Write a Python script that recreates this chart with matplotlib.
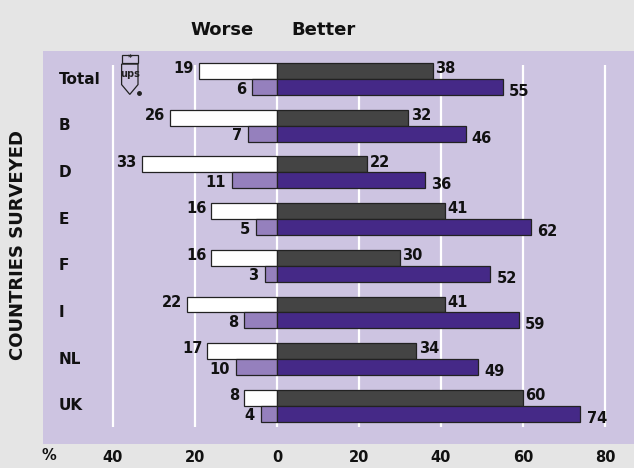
import numpy as np
import matplotlib.pyplot as plt
from matplotlib.patches import Polygon, Rectangle

countries = ['Total', 'B', 'D', 'E', 'F', 'I', 'NL', 'UK']
worse_a = [19, 26, 33, 16, 16, 22, 17, 8]     # white bars
worse_b = [6, 7, 11, 5, 3, 8, 10, 4]          # light purple bars
better_a = [38, 32, 22, 41, 30, 41, 34, 60]   # dark grey bars
better_b = [55, 46, 36, 62, 52, 59, 49, 74]   # dark purple bars
tick_vals = [-40, -20, 0, 20, 40, 60, 80]
tick_labels = ['40', '20', '0', '20', '40', '60', '80']

fig_bg = '#e5e5e5'
plot_bg = '#cdc4e1'
c_white = '#ffffff'
c_light = '#9580bd'
c_grey = '#444444'
c_purple = '#452987'

plt.rcParams['font.family'] = ['DejaVu Sans']

fig = plt.figure(figsize=(6.34, 4.68), dpi=100, facecolor=fig_bg)
ax = fig.add_axes([43 / 634, 24 / 468, 591 / 634, 393 / 468])
ax.set_facecolor(plot_bg)

y = np.arange(len(countries))
h = 0.34
ax.set_xlim(-57.07, 87.07)
ax.set_ylim(7.82, -0.6)

# grid lines
ax.vlines(tick_vals, -0.3, 7.45, colors='white', lw=1.6, zorder=1)

ax.barh(y - h / 2, [-v for v in worse_a], height=h, color=c_white,
        edgecolor='#222222', lw=0.9, zorder=2)
ax.barh(y + h / 2, [-v for v in worse_b], height=h, color=c_light,
        edgecolor='#222222', lw=0.9, zorder=2)
ax.barh(y - h / 2, better_a, height=h, color=c_grey,
        edgecolor='#222222', lw=0.9, zorder=2)
ax.barh(y + h / 2, better_b, height=h, color=c_purple,
        edgecolor='#222222', lw=0.9, zorder=2)

fs = 10.5
for i in range(len(countries)):
    ax.text(-worse_a[i] - 1.2, y[i] - h / 2 - 0.05, str(worse_a[i]), ha='right',
            va='center', fontsize=fs, fontweight='bold', color='#111111')
    ax.text(-worse_b[i] - 1.5, y[i] + h / 2 + 0.05, str(worse_b[i]), ha='right',
            va='center', fontsize=fs, fontweight='bold', color='#111111')
    ax.text(better_a[i] + 0.6, y[i] - h / 2 - 0.05, str(better_a[i]), ha='left',
            va='center', fontsize=fs, fontweight='bold', color='#111111')
    ax.text(better_b[i] + 1.5, y[i] + h / 2 + 0.1, str(better_b[i]), ha='left',
            va='center', fontsize=fs, fontweight='bold', color='#111111')
    ax.text(-53.3, y[i], countries[i], ha='left', va='center', fontsize=11,
            fontweight='bold', color='#111111')

# small UPS shield logo
shield = Polygon([(-37.9, -0.32), (-33.9, -0.32), (-33.9, 0.12), (-35.9, 0.33),
                  (-37.9, 0.12)], closed=True, facecolor=plot_bg,
                 edgecolor='#222222', lw=0.9, zorder=3)
ax.add_patch(shield)
ax.add_patch(Rectangle((-37.9, -0.52), 4.0, 0.17, facecolor=plot_bg,
                       edgecolor='#222222', lw=0.9, zorder=3))
ax.text(-35.9, -0.435, '*', ha='center', va='center', fontsize=6,
        fontweight='bold', color='#222222', zorder=4)
ax.text(-35.9, -0.1, 'ups', ha='center', va='center', fontsize=7,
        fontweight='bold', color='#222222', zorder=4)
ax.plot([-33.6], [0.3], marker='o', ms=2.5, color='#222222', zorder=4)

ax.set_xticks(tick_vals)
ax.set_xticklabels(tick_labels, fontsize=10.5, fontweight='bold', color='#111111')
ax.tick_params(axis='x', length=0, pad=4)
ax.set_yticks([])
for s in ax.spines.values():
    s.set_visible(False)

fig.text(49 / 634, 1 - 456 / 468, '%', ha='center', va='center', fontsize=10.5,
         fontweight='bold', color='#111111')
fig.text(222 / 634, 1 - 30 / 468, 'Worse', ha='center', va='center',
         fontsize=13, fontweight='bold', color='#111111')
fig.text(323 / 634, 1 - 30 / 468, 'Better', ha='center', va='center',
         fontsize=13, fontweight='bold', color='#111111')
fig.text(18 / 634, 1 - 245 / 468, 'COUNTRIES SURVEYED', rotation=90,
         ha='center', va='center', fontsize=13, fontweight='bold',
         color='#111111')

fig.savefig('out.png', dpi=100, facecolor=fig_bg)
